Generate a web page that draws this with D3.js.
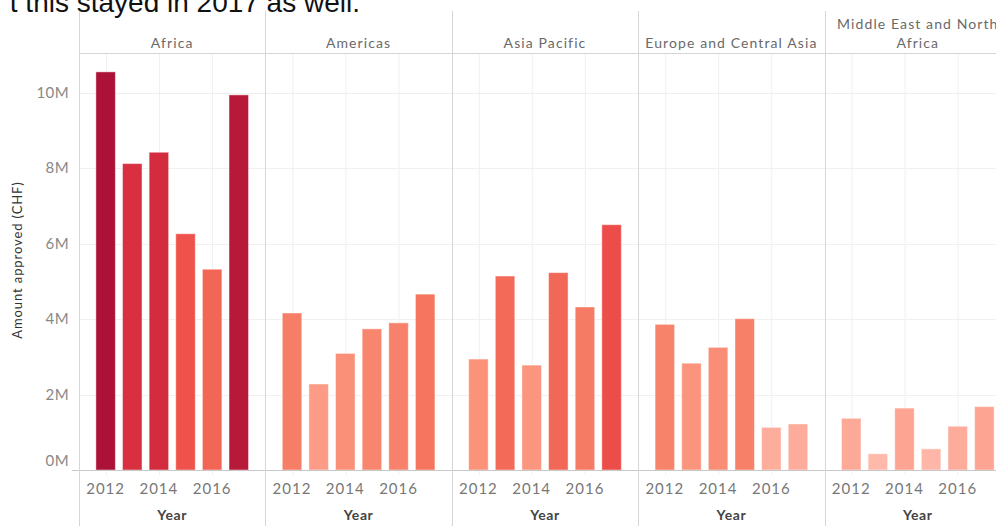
<!DOCTYPE html>
<html>
<head>
<meta charset="utf-8">
<script src="https://cdn.jsdelivr.net/npm/d3@7"></script>
<style>
  body { margin: 0; background: #fff; overflow: hidden; }
  svg { display: block; }
</style>
</head>
<body>
<div id="chart"></div>
<script>
//////////////////////////// data /////////////////////////////////////////

const regions = ["Africa", "Americas", "Asia Pacific", "Europe and Central Asia", "Middle East and North Africa"];
const years = [2012, 2013, 2014, 2015, 2016, 2017];
const yearTicks = [2012, 2014, 2016];
const valueTicks = [0, 2e6, 4e6, 6e6, 8e6, 10e6];

// amount approved (CHF), one array per region, 2012..2017
const africa = [10.55e6, 8.12e6, 8.42e6, 6.26e6, 5.32e6, 9.94e6];
const americas = [4.16e6, 2.28e6, 3.09e6, 3.74e6, 3.90e6, 4.66e6];
const asiaPacific = [2.94e6, 5.14e6, 2.78e6, 5.23e6, 4.32e6, 6.50e6];
const europeCA = [3.86e6, 2.83e6, 3.25e6, 4.01e6, 1.13e6, 1.22e6];
const mena = [1.37e6, 0.43e6, 1.64e6, 0.56e6, 1.16e6, 1.68e6];

const series = [africa, americas, asiaPacific, europeCA, mena];

const data = [];
regions.forEach((r, i) => {
	years.forEach((y, j) => data.push({ region: r, year: y, value: series[i][j] }));
});

//////////////////////////// sizes ///////////////////////////////////////

const width = 996;
const height = 526;
const left = 79;
const panelW = 186.4;
const headerTop = 11;
const headerBottom = 53;
const baseY = 470;

const svg = d3.select("#chart").append("svg")
	.attr("width", width)
	.attr("height", height);

//////////////////////////// scales //////////////////////////////////////

const xPanel = d3.scaleBand()
	.domain(regions)
	.range([left, left + panelW * regions.length]);

const xYear = d3.scaleLinear()
	.domain([2011, 2018])
	.range([0, xPanel.bandwidth()]);

const yScale = d3.scaleLinear()
	.domain([0, 11.05e6])
	.range([baseY, headerBottom]);

const cScale = d3.scaleLinear()
	.domain([0.4e6, 1.6e6, 2.9e6, 4.6e6, 6.3e6, 8.2e6, 10.55e6])
	.range(["#feb9ab", "#fda593", "#fb937b", "#f5765f", "#ee5149", "#d72f40", "#ac1237"])
	.clamp(true);

const font = "Lato, 'Open Sans', sans-serif";
const lineCol = "#d6d6d6";
const gridCol = "#f0f0f0";

//////////////////////////// heading text (cut off above) ////////////////

svg.append("text")
	.attr("x", 360)
	.attr("y", 12)
	.attr("text-anchor", "end")
	.attr("font-family", "'Liberation Sans', Arial, sans-serif")
	.attr("font-size", 28)
	.attr("fill", "#111")
	.text("t this stayed in 2017 as well.");

//////////////////////////// grid ////////////////////////////////////////

const plotRight = xPanel.range()[1];

svg.append("g")
	.selectAll("line")
	.data(valueTicks.filter((d) => d > 0))
	.join("line")
	.attr("x1", left)
	.attr("x2", plotRight)
	.attr("y1", (d) => Math.round(yScale(d)) + 0.5)
	.attr("y2", (d) => Math.round(yScale(d)) + 0.5)
	.attr("stroke", gridCol);

const panels = svg.append("g")
	.selectAll("g")
	.data(regions)
	.join("g")
	.attr("transform", (d) => `translate(${xPanel(d)},0)`);

panels.selectAll(".vgrid")
	.data(yearTicks)
	.join("line")
	.attr("class", "vgrid")
	.attr("x1", (d) => Math.round(xYear(d)) + 0.5)
	.attr("x2", (d) => Math.round(xYear(d)) + 0.5)
	.attr("y1", headerBottom)
	.attr("y2", baseY + 5)
	.attr("stroke", gridCol);

//////////////////////////// bars ////////////////////////////////////////

const barW = 19.5;

panels.selectAll("rect")
	.data((r) => data.filter((d) => d.region === r))
	.join("rect")
	.attr("x", (d) => xYear(d.year) - barW / 2)
	.attr("width", barW)
	.attr("y", (d) => yScale(d.value))
	.attr("height", (d) => baseY - yScale(d.value))
	.attr("fill", (d) => cScale(d.value))
	.attr("stroke", "#fff")
	.attr("stroke-opacity", 0.45)
	.attr("stroke-width", 1);

//////////////////////////// frame lines /////////////////////////////////

// header bottom line
svg.append("line")
	.attr("x1", left).attr("x2", width)
	.attr("y1", headerBottom + 0.5).attr("y2", headerBottom + 0.5)
	.attr("stroke", lineCol);

// zero baseline
svg.append("line")
	.attr("x1", left - 7).attr("x2", width)
	.attr("y1", baseY + 0.5).attr("y2", baseY + 0.5)
	.attr("stroke", "#c8c8c8");

// panel separators
svg.append("g")
	.selectAll("line")
	.data(regions)
	.join("line")
	.attr("x1", (d) => Math.round(xPanel(d)) + 0.5)
	.attr("x2", (d) => Math.round(xPanel(d)) + 0.5)
	.attr("y1", headerTop)
	.attr("y2", height)
	.attr("stroke", lineCol);

//////////////////////////// headers /////////////////////////////////////

const header = panels.append("text")
	.attr("text-anchor", "middle")
	.attr("font-family", font)
	.attr("font-size", 14)
	.attr("letter-spacing", 1.1)
	.attr("fill", "#6a6a6a");

header.each(function (d) {
	const t = d3.select(this);
	const cx = xPanel.bandwidth() / 2;
	if (d === "Middle East and North Africa") {
		t.append("tspan").attr("x", cx).attr("y", 29).text("Middle East and North");
		t.append("tspan").attr("x", cx).attr("y", 48).text("Africa");
	} else {
		t.append("tspan").attr("x", cx).attr("y", 48).text(d);
	}
});

//////////////////////////// axes ////////////////////////////////////////

const yAxis = svg.append("g").attr("font-family", font);

yAxis.selectAll("text")
	.data(valueTicks)
	.join("text")
	.attr("x", 69)
	.attr("y", (d) => (d === 0 ? yScale(d) - 9 : yScale(d)))
	.attr("dy", "0.35em")
	.attr("text-anchor", "end")
	.attr("font-size", 15)
	.attr("letter-spacing", 0.4)
	.attr("fill", "#888")
	.text((d) => d / 1e6 + "M");

svg.append("text")
	.attr("transform", "translate(22,260) rotate(-90)")
	.attr("text-anchor", "middle")
	.attr("font-family", font)
	.attr("font-size", 13)
	.attr("letter-spacing", 0.9)
	.attr("fill", "#333")
	.text("Amount approved (CHF)");

panels.selectAll(".xtick")
	.data(yearTicks)
	.join("text")
	.attr("class", "xtick")
	.attr("x", (d) => xYear(d))
	.attr("y", 494)
	.attr("text-anchor", "middle")
	.attr("font-family", font)
	.attr("font-size", 15)
	.attr("letter-spacing", 1)
	.attr("fill", "#777")
	.text((d) => d);

panels.append("text")
	.attr("x", xPanel.bandwidth() / 2)
	.attr("y", 520)
	.attr("text-anchor", "middle")
	.attr("font-family", font)
	.attr("font-size", 14)
	.attr("font-weight", "bold")
	.attr("letter-spacing", 0.6)
	.attr("fill", "#444")
	.text("Year");
</script>
</body>
</html>
